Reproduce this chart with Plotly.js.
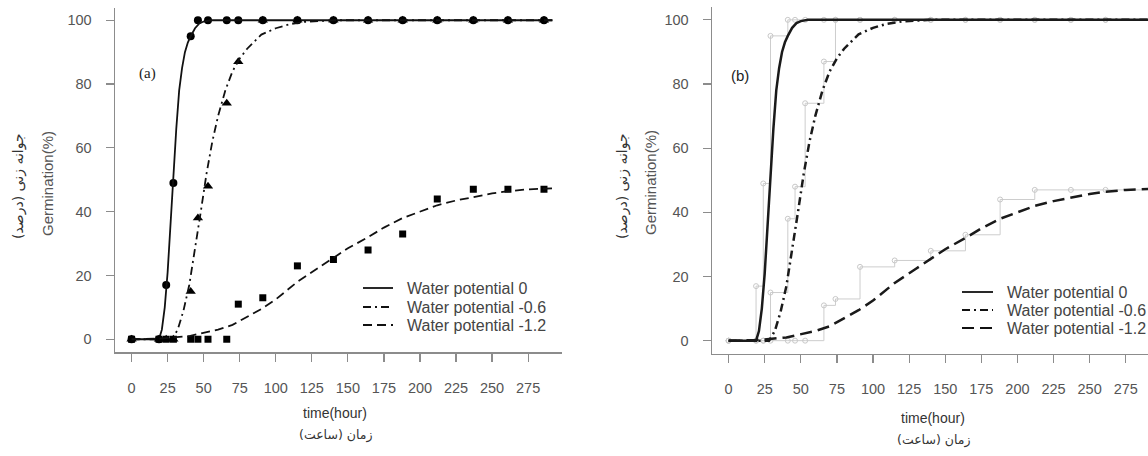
<!DOCTYPE html>
<html>
<head>
<meta charset="utf-8">
<script src="https://cdn.plot.ly/plotly-3.0.1.min.js"></script>
<style>html,body{margin:0;padding:0;background:#fff;}#chart{width:1148px;height:456px;}</style>
</head>
<body>
<div id="chart"></div>
<script>
// ---------- data ----------
const times   = [0, 19, 24, 29, 41, 46, 53, 66, 74, 91, 115, 140, 164, 188, 212, 237, 261, 286];
const germWP0  = [0, 0, 17, 49, 95, 100, 100, 100, 100, 100, 100, 100, 100, 100, 100, 100, 100, 100];
const germWP06 = [0, 0, 0, 0, 15, 38, 48, 74, 87, 100, 100, 100, 100, 100, 100, 100, 100, 100];
const germWP12 = [0, 0, 0, 0, 0, 0, 0, 0, 11, 13, 23, 25, 28, 33, 44, 47, 47, 47];

// fitted curves
const fitTimeWP0  = [0, 19, 21, 23, 25, 27, 29, 31, 33, 35, 37, 39, 41, 44, 47, 50, 55, 60, 100, 150, 200, 250, 292];
const fitWP0      = [0, 0, 3, 10, 21, 36, 52, 66, 78, 85, 90, 93, 95, 97.5, 99, 99.6, 100, 100, 100, 100, 100, 100, 100];
const fitTimeWP06 = [0, 28, 32, 36, 40, 44, 48, 52, 56, 60, 65, 70, 75, 80, 90, 100, 110, 120, 140, 292];
const fitWP06     = [0, 0, 3, 9, 17, 28, 40, 52, 62, 70, 78, 84, 88, 91, 95.5, 97.5, 98.8, 99.5, 100, 100];
const fitTimeWP12 = [0, 20, 40, 50, 60, 70, 80, 90, 100, 115, 130, 140, 150, 164, 175, 188, 200, 212, 225, 236, 250, 261, 275, 292];
const fitWP12     = [0, 0.2, 1, 2, 3, 4.5, 7, 9.5, 12.5, 18, 22.5, 25.5, 28.5, 32, 35, 38, 40, 42, 43.5, 44.5, 45.7, 46.4, 47, 47.3];

const seriesNames = ['Water potential 0', 'Water potential -0.6', 'Water potential -1.2'];
const xTicks = [0, 25, 50, 75, 100, 125, 150, 175, 200, 225, 250, 275];
const yTicks = [0, 20, 40, 60, 80, 100];

// ---------- helpers ----------
const W = 1148, H = 456;
const px = x => x / W;
const py = y => 1 - y / H;

const observed = [germWP0, germWP06, germWP12];
const fitsX = [fitTimeWP0, fitTimeWP06, fitTimeWP12];
const fitsY = [fitWP0, fitWP06, fitWP12];
const symbols = ['circle', 'triangle-up', 'square'];
const symSizes = [8, 9, 7];
const dashA = ['solid', '8px,4px,2px,4px', '9px,5px'];
const dashB = ['solid', '8px,4px,2px,4px', '12px,6px'];

const traces = [];
// panel (a)
for (let i = 0; i < 3; i++) {
  traces.push({x: times, y: observed[i], xaxis: 'x', yaxis: 'y', type: 'scatter', mode: 'markers',
    marker: {symbol: symbols[i], size: symSizes[i], color: '#000'}, showlegend: false, hoverinfo: 'skip'});
  traces.push({x: fitsX[i], y: fitsY[i], xaxis: 'x', yaxis: 'y', type: 'scatter', mode: 'lines', name: seriesNames[i],
    line: {color: '#111', width: 1.8, dash: dashA[i]}, showlegend: false});
}
// panel (b): grey step functions
for (let i = 0; i < 3; i++) {
  traces.push({x: times, y: observed[i], xaxis: 'x2', yaxis: 'y2', type: 'scatter', mode: 'lines',
    line: {color: '#cdcdcd', width: 1, shape: 'vh'}, showlegend: false, hoverinfo: 'skip'});
  traces.push({x: times.slice(0, -1), y: observed[i].slice(1), xaxis: 'x2', yaxis: 'y2', type: 'scatter', mode: 'markers',
    marker: {symbol: 'circle-open', size: 5, color: '#c8c8c8', line: {width: 1}}, showlegend: false, hoverinfo: 'skip'});
}
for (let i = 0; i < 3; i++) {
  traces.push({x: fitsX[i], y: fitsY[i], xaxis: 'x2', yaxis: 'y2', type: 'scatter', mode: 'lines', name: seriesNames[i],
    line: {color: '#1a1a1a', width: 2.5, dash: dashB[i]}, showlegend: false});
}

const tickFont = {family: 'Liberation Sans, Arial, sans-serif', size: 14.5, color: '#555'};
const axisCommon = {showgrid: false, zeroline: false, showline: true, linecolor: '#8c8c8c', linewidth: 1.5,
  ticks: 'outside', ticklen: 8, tickcolor: '#8c8c8c', tickwidth: 1.2, tickfont: tickFont, fixedrange: true};

const layout = {
  width: W, height: H, margin: {l: 0, r: 0, t: 0, b: 0},
  paper_bgcolor: '#fff', plot_bgcolor: '#fff', showlegend: false,
  xaxis: Object.assign({}, axisCommon, {domain: [px(115), px(562)], range: [-11.5, 298.5], tickvals: xTicks, anchor: 'y', ticklabelstandoff: 14}),
  yaxis: Object.assign({}, axisCommon, {domain: [py(352), py(7.5)], range: [-4, 104], tickvals: yTicks, anchor: 'x', ticklabelstandoff: 11}),
  xaxis2: Object.assign({}, axisCommon, {domain: [px(712), 1], range: [-11.5, 290.4], tickvals: xTicks, anchor: 'y2', ticklabelstandoff: 14}),
  yaxis2: Object.assign({}, axisCommon, {domain: [py(353.5), py(7)], range: [-4, 104], tickvals: yTicks, anchor: 'x2', ticklabelstandoff: 11}),
  shapes: [], annotations: []
};

function ann(text, x, y, font, extra) {
  layout.annotations.push(Object.assign({text: text, x: px(x), y: py(y), xref: 'paper', yref: 'paper',
    showarrow: false, xanchor: 'center', yanchor: 'middle', font: font}, extra || {}));
}
const sans = (s, c) => ({family: 'Liberation Sans, Arial, sans-serif', size: s, color: c || '#444'});
const fa = (s, c) => ({family: 'DejaVu Sans, sans-serif', size: s, color: c || '#333'});

// panel labels
ann('(a)', 147, 74, {family: 'Liberation Serif, serif', size: 15, color: '#222'});
ann('(b)', 740, 76, sans(15, '#222'));
// axis titles (a)
ann('جوانه زنی (درصد)', 18, 186, fa(14), {textangle: -90});
ann('Germination(%)', 47, 183, sans(15, '#555'), {textangle: -90});
ann('time(hour)', 335, 413, sans(14, '#333'));
ann('زمان (ساعت)', 335, 435, fa(12.5));
// axis titles (b)
ann('جوانه زنی (درصد)', 622, 186, fa(14), {textangle: -90});
ann('Germination(%)', 650, 183, sans(15, '#555'), {textangle: -90});
ann('time(hour)', 933, 418, sans(14, '#333'));
ann('زمان (ساعت)', 933, 440, fa(12.5));

// legends
function legend(x0, x1, xt, ys, dashes) {
  for (let i = 0; i < 3; i++) {
    layout.shapes.push({type: 'line', xref: 'paper', yref: 'paper', x0: px(x0), x1: px(x1), y0: py(ys[i]), y1: py(ys[i]),
      line: {color: '#111', width: 1.8, dash: dashes[i]}});
    ann(seriesNames[i], xt, ys[i], sans(16, '#444'), {xanchor: 'left'});
  }
}
legend(363, 393, 405, [288, 307, 325], dashA);
legend(962, 993, 1005, [292, 310, 328], dashB);

Plotly.newPlot('chart', traces, layout, {displayModeBar: false, staticPlot: true});
</script>
</body>
</html>
